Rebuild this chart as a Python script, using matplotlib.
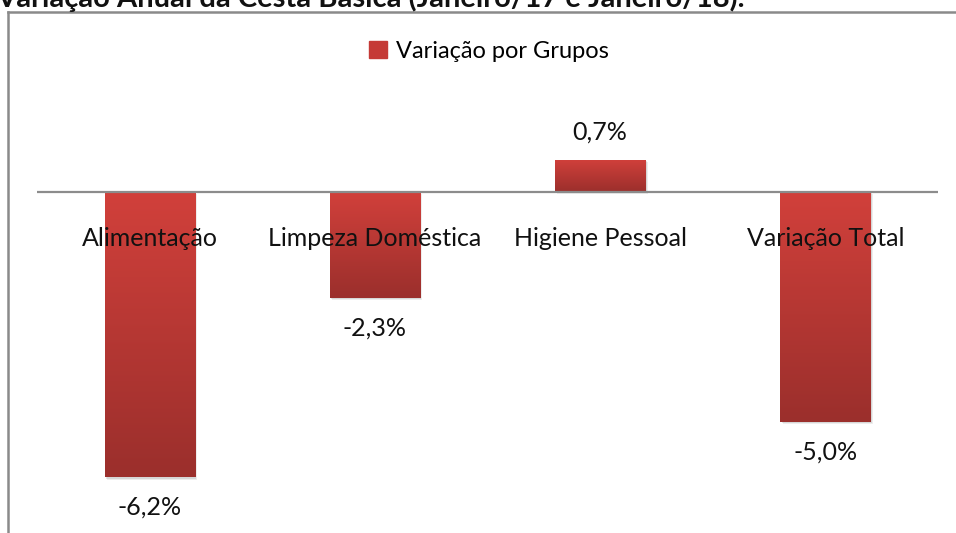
import numpy as np
import matplotlib
matplotlib.use("Agg")
import matplotlib.pyplot as plt
from matplotlib.colors import LinearSegmentedColormap
from matplotlib.patches import Rectangle, Patch
from matplotlib.lines import Line2D

plt.rcParams['font.family'] = ['Lato', 'DejaVu Sans']

categorias = ["Alimentação", "Limpeza Doméstica", "Higiene Pessoal", "Variação Total"]
variacao = [-6.2, -2.3, 0.7, -5.0]
rotulos = ["-6,2%", "-2,3%", "0,7%", "-5,0%"]
titulo = "Variação Anual da Cesta Básica (Janeiro/17 e Janeiro/18)."
serie = "Variação por Grupos"

W, H = 956, 533
fig = plt.figure(figsize=(W / 100, H / 100), dpi=100)

# axes in pixel terms: x 37..938, y 100..520, zero line at y=192, 46 px per 1%
ax = fig.add_axes([37 / W, 1 - 520 / H, (938 - 37) / W, 420 / H])
ax.set_xlim(-0.5, 3.5)
ax.set_ylim(-(520 - 192) / 46, (192 - 100) / 46)
ax.axis("off")

grad = LinearSegmentedColormap.from_list("g", ["#9b2f2c", "#d1403b"])
larg = 0.4
for i, v in enumerate(variacao):
    x0 = i - larg / 2
    y0, y1 = min(0, v), max(0, v)
    # shadow
    for k, a in [(0.035, 0.10), (0.02, 0.15)]:
        ax.add_patch(Rectangle((x0 + k * 0.3, y0 - k * 1.5), larg, y1 - y0,
                               color="#555555", alpha=a, lw=0, zorder=1))
    bar = Rectangle((x0, y0), larg, y1 - y0, facecolor="none", lw=0, zorder=2)
    ax.add_patch(bar)
    img = ax.imshow(np.linspace(0, 1, 100).reshape(-1, 1), cmap=grad,
                    extent=[x0, x0 + larg, y0, y1], aspect="auto", zorder=2,
                    origin="lower")
    img.set_clip_path(bar)
    off = 28 if v > 0 else -30
    ax.annotate(rotulos[i], xy=(i, v), xytext=(0, off), textcoords="offset pixels",
                ha="center", va="center", fontsize=18, color="#111111")
    ax.annotate(categorias[i], xy=(i, 0), xytext=(0, -46), textcoords="offset pixels",
                ha="center", va="center", fontsize=18, color="#111111", zorder=5)

ax.axhline(0, color="#8c8c8c", lw=1.6, zorder=3)

# outer chart frame (left and top edges)
fig.add_artist(Line2D([8 / W, 8 / W], [0, 1 - 12 / H], color="#8a8a8a", lw=1.8))
fig.add_artist(Line2D([8 / W, 1], [1 - 12 / H, 1 - 12 / H], color="#8a8a8a", lw=1.8))

fig.text(-4 / W, 1 - 7 / H, titulo, fontsize=21, fontweight="bold",
         va="baseline", ha="left", color="#111111")

fig.legend(handles=[Patch(color="#c53a36", label=serie)], loc="center",
           bbox_to_anchor=(489 / W, 1 - 51 / H), frameon=False, fontsize=17,
           handlelength=0.75, handleheight=0.75, handletextpad=0.4)

fig.savefig("out.png", dpi=100)
